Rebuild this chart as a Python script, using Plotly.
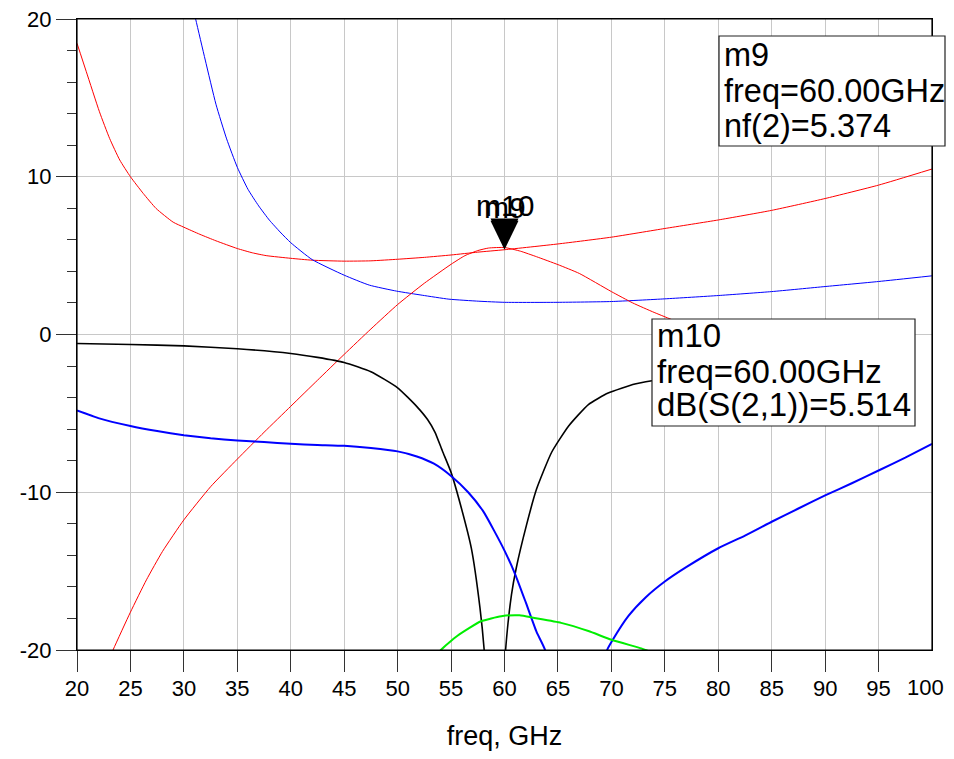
import plotly.graph_objects as go

# ---------------- data ----------------
nf_freq = [20, 20.87, 22.1, 23.05, 24, 25, 26.2, 27.4, 29, 30, 31.5, 33, 35, 36.4,
           37.7, 40, 42, 45, 47.5, 50, 52.5, 55, 57.5, 60, 65, 70, 75, 80, 85, 90,
           95, 100]
nf_vals = [18.46, 16.66, 14.12, 12.43, 11.06, 10.0, 8.94, 7.99, 7.12, 6.8, 6.35,
           5.94, 5.45, 5.18, 5.0, 4.83, 4.71, 4.65, 4.67, 4.77, 4.89, 5.04, 5.22,
           5.374, 5.74, 6.17, 6.72, 7.26, 7.87, 8.62, 9.47, 10.49]

nfmin_freq = [30, 31.1, 32, 33, 34, 35, 36, 37, 38, 39, 40, 42, 45, 47.35, 49.9,
              52.3, 54.8, 57.6, 60, 65, 70, 75, 80, 85, 90, 95, 100]
nfmin_vals = [23.3, 20.0, 17.4, 14.6, 12.4, 10.6, 9.2, 8.15, 7.25, 6.5, 5.82, 4.75,
              3.76, 3.13, 2.75, 2.49, 2.24, 2.11, 2.04, 2.04, 2.09, 2.26, 2.47,
              2.72, 3.04, 3.36, 3.72]

s21_freq = [21.5, 23.37, 25, 26.5, 28, 30, 32.5, 35, 37.5, 40, 42.5, 45, 47.5, 50,
            52.5, 55, 56.3, 57.5, 58.5, 60, 61.5, 63, 65, 67, 70, 72, 74, 76]
s21_vals = [-23.0, -20, -17.6, -15.55, -13.75, -11.75, -9.65, -7.9, -6.2, -4.55,
            -2.9, -1.26, 0.35, 1.9, 3.25, 4.45, 5.0, 5.32, 5.48, 5.514, 5.28, 4.93,
            4.43, 3.87, 2.72, 2.0, 1.4, 0.85]

s11_freq = [20, 25, 30, 35, 40, 42.5, 45, 47.5, 50, 51.8, 52.8, 53.5, 54.2, 55,
            55.9, 56.9, 57.7, 58.1, 59.1, 60.1, 60.65, 61.1, 62.05, 63, 64.4, 66,
            67.85, 69.7, 72.2, 73.8, 76]
s11_vals = [-0.57, -0.63, -0.72, -0.9, -1.2, -1.45, -1.77, -2.36, -3.38, -4.57,
            -5.39, -6.2, -7.4, -8.74, -10.84, -13.56, -17.3, -20, -32, -20, -16.5,
            -14.8, -12.1, -9.8, -7.48, -5.8, -4.44, -3.71, -3.14, -2.93, -2.7]

s22_freq = [20, 22, 25, 27.5, 30, 32.5, 35, 37.5, 40, 42.5, 45, 47.5, 50, 51.8,
            53.4, 55, 56.6, 58, 59, 60, 61, 62, 63, 63.8, 66.5, 69.6, 70.06, 71.6,
            73.2, 75, 77, 80, 82.5, 85, 87.5, 90, 92.5, 95, 97.5, 100]
s22_vals = [-4.82, -5.3, -5.8, -6.12, -6.38, -6.58, -6.72, -6.82, -6.93, -7.0,
            -7.06, -7.2, -7.41, -7.73, -8.19, -8.97, -10.0, -11.2, -12.4, -13.7,
            -15.2, -17.0, -18.85, -20, -28, -20, -19.43, -17.84, -16.67, -15.66,
            -14.75, -13.55, -12.75, -11.87, -11.03, -10.2, -9.43, -8.62, -7.8, -6.93]

s12_freq = [53, 54.05, 55.6, 57.8, 59.7, 61.4, 62.8, 65.3, 67.85, 70, 72.8, 73.2, 74]
s12_vals = [-21.3, -20, -19.1, -18.18, -17.86, -17.8, -17.97, -18.28, -18.8, -19.35,
            -19.9, -20, -20.2]

x_ticks = [20, 25, 30, 35, 40, 45, 50, 55, 60, 65, 70, 75, 80, 85, 90, 95]
x_last_tick = "100"
y_ticks = [-20, -10, 0, 10, 20]

marker_freq = 60
m9_value = 5.374
m10_value = 5.514
m9_lines = ["m9", "freq=60.00GHz", "nf(2)=5.374"]
m10_lines = ["m10", "freq=60.00GHz", "dB(S(2,1))=5.514"]

x_title = "freq, GHz"

# ---------------- figure ----------------
# the page body adds an 8 px offset; keep the div inside the window
OFF = 8
W, H = 954 - OFF, 759 - 2 * OFF
L, R, T, B = 77 - OFF, 22, 19 - OFF, 101
PW, PH = W - L - R, H - T - B
FONT = "Arial, Liberation Sans, sans-serif"


def pxp(x):
    """screen x pixel -> paper fraction"""
    return (x - OFF - L) / PW


def pyp(y):
    """screen y pixel -> paper fraction"""
    return (T + PH - (y - OFF)) / PH


fig = go.Figure()

traces = [
    (nf_freq, nf_vals, "#ff0000", 1.0, "nf(2)"),
    (nfmin_freq, nfmin_vals, "#0000ff", 1.0, "NFmin"),
    (s21_freq, s21_vals, "#ff0000", 1.0, "dB(S(2,1))"),
    (s11_freq, s11_vals, "#000000", 1.6, "dB(S(1,1))"),
    (s22_freq, s22_vals, "#0000ff", 2.0, "dB(S(2,2))"),
    (s12_freq, s12_vals, "#00ee00", 2.0, "dB(S(1,2))"),
]
for xs, ys, col, w, name in traces:
    fig.add_trace(go.Scatter(x=xs, y=ys, mode="lines", name=name,
                             line=dict(color=col, width=w, shape="spline",
                                       smoothing=0.5),
                             showlegend=False))

shapes = []
# plot frame
shapes.append(dict(type="rect", xref="paper", yref="paper", x0=0, x1=1, y0=0, y1=1,
                   line=dict(color="black", width=1.2), fillcolor="rgba(0,0,0,0)",
                   layer="above"))
# marker triangles (tip on the data point)
for val in (m9_value, m10_value):
    shapes.append(dict(type="path", xref="x", yref="y",
                       xsizemode="pixel", ysizemode="pixel",
                       xanchor=marker_freq, yanchor=val,
                       path="M -14,29 L 14,29 L 0,0 Z",
                       fillcolor="black", line=dict(width=0), layer="above"))

# readout boxes (screen pixel geometry)
boxes = [
    ((719, 36, 945, 146), m9_lines, (722, [55, 91, 126]), 32.5),
    ((652, 319, 915, 426), m10_lines, (655, [336, 371, 405]), 33),
]
annotations = []
for (x0, y0, x1, y1), lines, (tx, tys), fs in boxes:
    shapes.append(dict(type="rect", xref="paper", yref="paper",
                       x0=pxp(x0), x1=pxp(x1), y0=pyp(y1), y1=pyp(y0),
                       fillcolor="white", line=dict(color="#222222", width=1.2),
                       layer="above"))
    for txt, ty in zip(lines, tys):
        annotations.append(dict(text=txt, xref="paper", yref="paper",
                                x=pxp(tx), y=pyp(ty), xanchor="left",
                                yanchor="middle", showarrow=False,
                                font=dict(family=FONT, size=fs, color="black")))

for lab, val in (("m10", m10_value), ("m9", m9_value)):
    annotations.append(dict(text=lab, x=marker_freq, y=val, xref="x", yref="y",
                            showarrow=False, yshift=42, xanchor="center",
                            yanchor="middle",
                            font=dict(family=FONT, size=30, color="black")))

# last x tick label, kept inside the frame edge as in the reference
annotations.append(dict(text=x_last_tick, xref="paper", yref="paper",
                        x=pxp(946), y=pyp(687), xanchor="right", yanchor="middle",
                        showarrow=False,
                        font=dict(family=FONT, size=22, color="black")))

fig.update_layout(
    width=W, height=H,
    margin=dict(l=L, r=R, t=T, b=B, pad=0, autoexpand=False),
    paper_bgcolor="white", plot_bgcolor="white",
    font=dict(family=FONT, color="black"),
    shapes=shapes, annotations=annotations,
)
fig.update_xaxes(range=[20, 100], tickmode="array", tickvals=x_ticks,
                 ticktext=[str(v) for v in x_ticks], showgrid=True, automargin=False,
                 gridcolor="#c8c8c8", gridwidth=1, showline=True, linecolor="black",
                 linewidth=1.2, mirror=True, ticks="outside", ticklen=21,
                 tickcolor="#333333", tickwidth=1.2, zeroline=False,
                 ticklabeloverflow="allow", ticklabelstandoff=-3,
                 tickfont=dict(family=FONT, size=22, color="black"),
                 title=dict(text=x_title, standoff=28,
                            font=dict(family=FONT, size=27, color="black")))
fig.update_yaxes(range=[-20, 20], tickmode="array", tickvals=y_ticks,
                 ticktext=[str(v) for v in y_ticks], showgrid=True, automargin=False,
                 gridcolor="#c8c8c8", gridwidth=1, showline=True, linecolor="black",
                 linewidth=1.2, mirror=True, ticks="outside", ticklen=20,
                 tickcolor="#333333", tickwidth=1.2, zeroline=False,
                 ticklabeloverflow="allow",
                 tickfont=dict(family=FONT, size=22, color="black"),
                 minor=dict(dtick=2, tick0=0, ticks="outside", ticklen=9,
                            showgrid=False, tickcolor="#333333", tickwidth=1.2))

fig.write_html("out.html")
